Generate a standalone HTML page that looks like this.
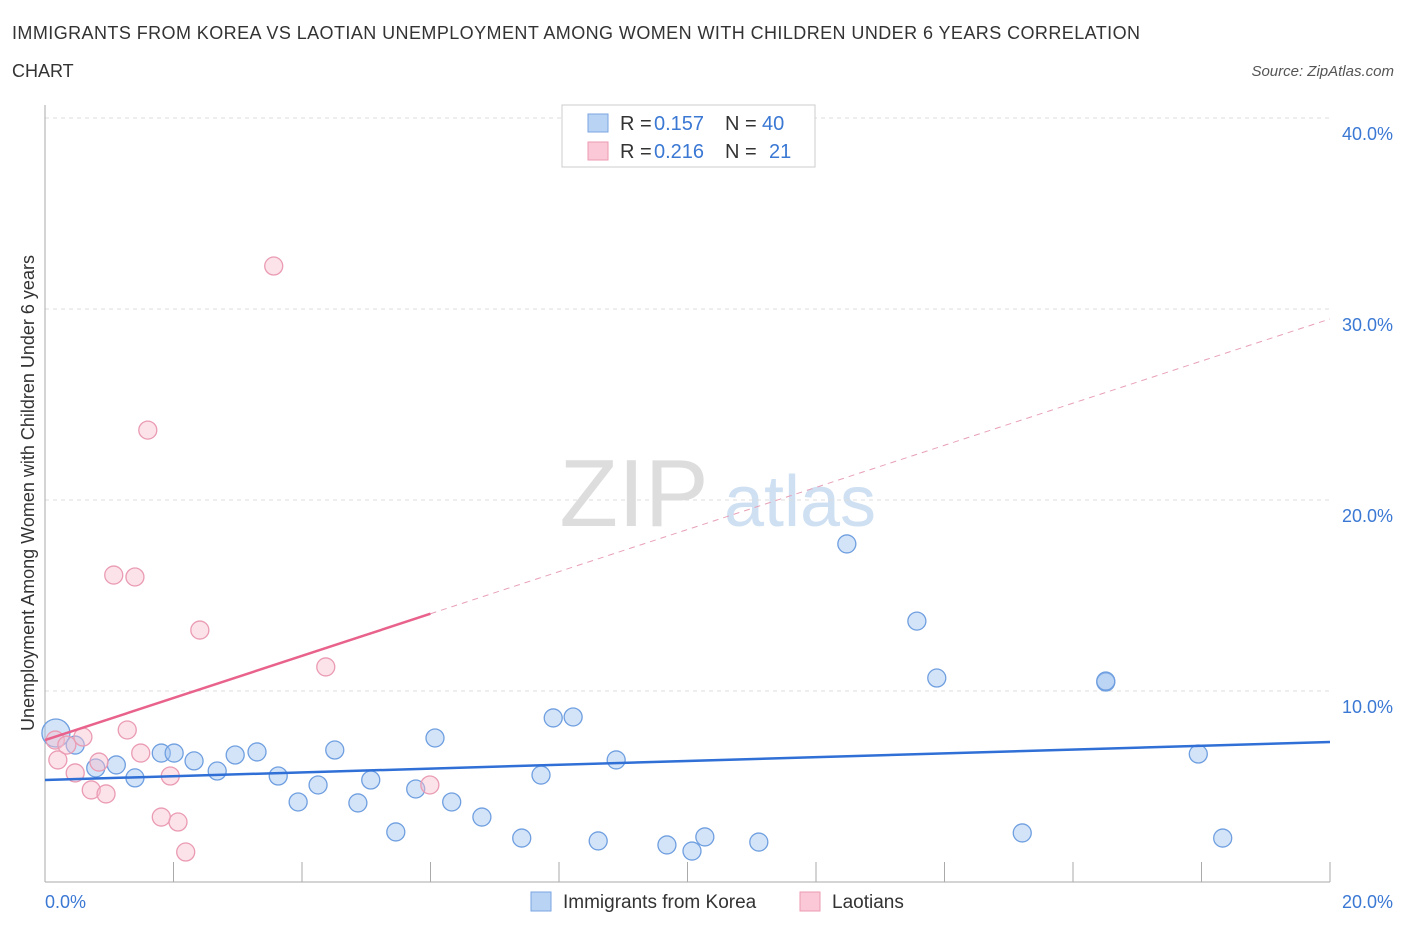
<!DOCTYPE html>
<html><head><meta charset="utf-8"><style>
body{margin:0;background:#fff;font-family:"Liberation Sans",sans-serif;}
svg text{font-family:"Liberation Sans",sans-serif;}
</style></head><body>
<svg id="c" width="1406" height="930" xmlns="http://www.w3.org/2000/svg">
<text x="12" y="39" font-size="18" textLength="1128" fill="#333">IMMIGRANTS FROM KOREA VS LAOTIAN UNEMPLOYMENT AMONG WOMEN WITH CHILDREN UNDER 6 YEARS CORRELATION</text>
<text x="12" y="77" font-size="18" fill="#333">CHART</text>
<text x="1394" y="76" font-size="15" fill="#555" font-style="italic" text-anchor="end">Source: ZipAtlas.com</text>
<text x="634" y="526" font-size="96" fill="#ddd" font-family="Liberation Serif" text-anchor="middle">ZIP</text>
<text x="800" y="526" font-size="72" fill="#cfe0f3" text-anchor="middle">atlas</text>
<text transform="translate(34,493) rotate(-90)" font-size="18" fill="#333" text-anchor="middle">Unemployment Among Women with Children Under 6 years</text>
<g id="grid"></g><g id="pts"></g><g id="lines"></g>
<g>
<rect x="562" y="105" width="253" height="62" fill="#fff" stroke="#ccc"/>
<rect x="588" y="114" width="20" height="18" fill="#b9d3f5" stroke="#7aa6e0"/>
<rect x="588" y="142" width="20" height="18" fill="#fac8d6" stroke="#ec9ab2"/>
<text x="620" y="130" font-size="20" fill="#333">R =</text>
<text x="654" y="130" font-size="20" fill="#3a78d4">0.157</text>
<text x="725" y="130" font-size="20" fill="#333">N =</text>
<text x="762" y="130" font-size="20" fill="#3a78d4">40</text>
<text x="620" y="158" font-size="20" fill="#333">R =</text>
<text x="654" y="158" font-size="20" fill="#3a78d4">0.216</text>
<text x="725" y="158" font-size="20" fill="#333">N =</text>
<text x="769" y="158" font-size="20" fill="#3a78d4">21</text>
</g>
<g>
<rect x="531" y="892" width="20" height="19" fill="#b9d3f5" stroke="#7aa6e0"/>
<text x="563" y="908" font-size="19" fill="#333">Immigrants from Korea</text>
<rect x="800" y="892" width="20" height="19" fill="#fac8d6" stroke="#ec9ab2"/>
<text x="832" y="908" font-size="19" fill="#333">Laotians</text>
</g>
</svg>
<script>
const yTicks=[10,20,30,40];
const xTickLabels=["0.0%","20.0%"];
const koreaX=[0.17,0.47,0.79,1.11,1.40,1.81,2.01,2.32,2.68,2.96,3.30,3.63,3.94,4.25,4.51,4.87,5.07,5.46,5.77,6.07,6.33,6.80,7.42,7.72,7.91,8.22,8.61,8.89,9.68,10.07,10.27,11.11,12.48,13.57,13.88,15.21,16.51,16.51,17.95,18.33];
const koreaY=[7.80,7.17,5.97,6.13,5.45,6.75,6.75,6.34,5.81,6.65,6.81,5.55,4.19,5.08,6.91,4.14,5.34,2.62,4.87,7.54,4.19,3.40,2.30,5.60,8.59,8.64,2.15,6.39,1.94,1.62,2.36,2.09,17.70,13.66,10.68,2.57,10.47,10.52,6.70,2.30];
const laoX=[0.16,0.20,0.34,0.47,0.59,0.72,0.84,0.95,1.07,1.28,1.40,1.49,1.60,1.81,1.95,2.07,2.19,2.41,3.56,4.37,5.99];
const laoY=[7.43,6.39,7.17,5.71,7.59,4.82,6.28,4.61,16.07,7.96,15.97,6.75,23.66,3.40,5.55,3.14,1.57,13.19,32.25,11.26,5.08];
const koreaTrend=[5.34,7.33];
const laoTrend=[7.43,29.48];
const NS='http://www.w3.org/2000/svg';
const sx=v=>45+v*64.25, sy=v=>882-v*19.1;
function mk(t,a,p){const e=document.createElementNS(NS,t);for(const k in a)e.setAttribute(k,a[k]);document.getElementById(p).appendChild(e);return e;}
yTicks.forEach(t=>{
 const l=mk('line',{x1:45,x2:1330,y1:sy(t),y2:sy(t),stroke:'#ddd','stroke-dasharray':'4,4'},'grid');
 
 
 const tx=mk('text',{x:1393,y:sy(t)+22,'font-size':18,fill:'#3a78d4','text-anchor':'end'},'grid');tx.textContent=t.toFixed(1)+'%';
 
 
});
const ax=mk('line',{x1:45,x2:45,y1:105,y2:882,stroke:'#aaa'},'grid');


const bx=mk('line',{x1:45,x2:1330,y1:882,y2:882,stroke:'#aaa'},'grid');


for(let i=0;i<=10;i++){const v=i*2;const t=mk('line',{x1:sx(v),x2:sx(v),y1:862,y2:882,stroke:'#aaa'},'grid');
 
 }
[[0,'start',45],[20,'end',1393]].forEach((d,i)=>{const t=mk('text',{x:d[2],y:908,'font-size':18,fill:'#3a78d4','text-anchor':d[1]},'grid');t.textContent=xTickLabels[i];
 
 });
koreaX.forEach((x,i)=>{const c=mk('circle',{cx:sx(x),cy:sy(koreaY[i]),r:i==0?14:9,fill:'rgba(160,196,240,0.45)',stroke:'#6f9fe0','stroke-width':1.3},'pts');
 
 });
laoX.forEach((x,i)=>{const c=mk('circle',{cx:sx(x),cy:sy(laoY[i]),r:9,fill:'rgba(248,190,206,0.45)',stroke:'#ea9bb3','stroke-width':1.3},'pts');
 
 });
const kl=mk('line',{x1:sx(0),y1:sy(koreaTrend[0]),x2:sx(20),y2:sy(koreaTrend[1]),stroke:'#2f6fd6','stroke-width':2.5},'lines');


const lm=laoTrend[0]+(laoTrend[1]-laoTrend[0])*0.3;
const ll=mk('line',{x1:sx(0),y1:sy(laoTrend[0]),x2:sx(6),y2:sy(lm),stroke:'#e8628c','stroke-width':2.5},'lines');


const ld=mk('line',{x1:sx(6),y1:sy(lm),x2:sx(20),y2:sy(laoTrend[1]),stroke:'#e8a0b6','stroke-width':1,'stroke-dasharray':'6,5'},'lines');


</script>
</body></html>
